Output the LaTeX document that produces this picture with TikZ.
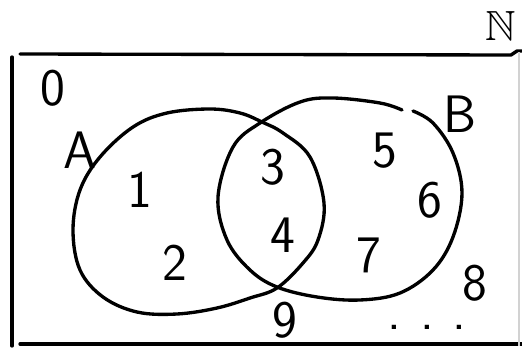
\documentclass[tikz,border=0pt]{standalone}
\usepackage{amssymb}
\tikzset{
  pen/.style={line width=1.9pt, line cap=round, line join=round},
  numlabel/.style={font=\sffamily\fontsize{30}{34}\selectfont, inner sep=0pt}
}
\begin{document}
\begin{tikzpicture}[x=0.02cm, y=-0.02cm]
\useasboundingbox (0,0) rectangle (522,349);
% frame of the universe
 \draw [pen] (20,54) -- (511,55) -- (517,51) -- (522,51);
 \draw [pen] (12,57) -- (12,346);
 \draw [pen] (20,344) -- (522,344);
 \draw [gray!35, line width=0.6pt] (519,52) -- (519,346);
\node [anchor=east, inner sep=0pt, font=\fontsize{24}{28}\selectfont] (nat) at (516,26) {$\mathbb{N}$};
% set A
 \draw [pen] plot [smooth cycle, tension=0.6] coordinates {
   (262,122) (283,133) (310,157) (324,203) (318,240) (303,263) (277,288)
   (250,298) (217,308) (177,314) (137,312) (103,297) (80,270) (73,230)
   (80,190) (100,157) (133,127) (167,113) (210,109) (240,113)};
% set B
 \draw [pen] plot [smooth, tension=0.6] coordinates {
   (413,111) (433,123) (453,153) (462,193) (453,237) (433,270) (400,293)
   (360,300) (317,297) (277,287) (250,270) (227,240) (218,197) (233,147)
   (260,123) (300,102) (333,98) (380,103) (402,110)};
\node [numlabel] (setA) at (80,150) {A};
\node [numlabel] (setB) at (460,114) {B};
\node [numlabel] (e0) at (53,88) {0};
\node [numlabel] (e1) at (140,190) {1};
\node [numlabel] (e2) at (175,263) {2};
\node [numlabel] (e3) at (273,167) {3};
\node [numlabel] (e4) at (283,235) {4};
\node [numlabel] (e5) at (385,151) {5};
\node [numlabel] (e6) at (430,200) {6};
\node [numlabel] (e7) at (369,255) {7};
\node [numlabel] (e8) at (475,283) {8};
\node [numlabel] (e9) at (285,320) {9};
\node [numlabel] (dots) at (427,327) {.\hspace{0.35em}.\hspace{0.35em}.};
\end{tikzpicture}
\end{document}
